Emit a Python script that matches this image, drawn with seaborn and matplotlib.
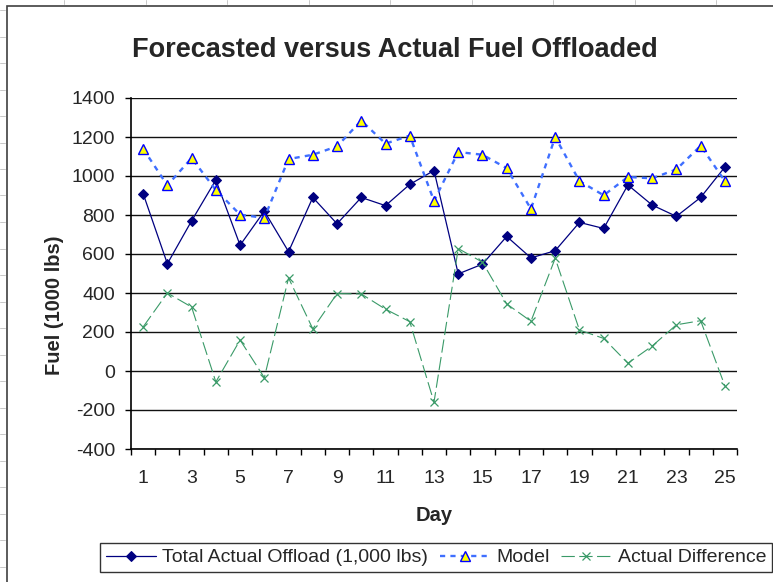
import numpy as np
import pandas as pd
import seaborn as sns
import matplotlib.pyplot as plt
from matplotlib.lines import Line2D
from matplotlib.patches import Rectangle

# --- Data ---
days = list(range(1, 26))
actual = [910, 550, 770, 980, 645, 820, 612, 890, 755, 890, 848, 957, 1028,
          498, 548, 690, 580, 617, 762, 731, 954, 851, 793, 890, 1046]
model = [1140, 952, 1092, 928, 802, 785, 1087, 1109, 1152, 1284, 1166, 1207, 872,
         1123, 1109, 1040, 831, 1200, 974, 901, 995, 988, 1034, 1155, 974]
difference = [226, 400, 328, -56, 159, -34, 477, 216, 397, 395, 317, 253, -160,
              628, 558, 344, 255, 578, 210, 167, 40, 128, 237, 258, -76]
day_labels = [str(d) for d in range(1, 26, 2)]
y_ticks = list(range(-400, 1401, 200))

labels = ["Total Actual Offload (1,000 lbs)", "Model", "Actual Difference"]

sns.set_style("white")
plt.rcParams["font.family"] = ["Liberation Sans", "DejaVu Sans"]
plt.rcParams["axes.unicode_minus"] = False

W, H = 773, 582
fig = plt.figure(figsize=(W / 100, H / 100), dpi=100)
fig.patch.set_facecolor("white")

# chart-area border (runs off the right and bottom edge like the screenshot)
fig.add_artist(Rectangle((7 / W, -0.1), 1.2, 1 - 5.5 / H + 0.1, transform=fig.transFigure,
                         fill=False, edgecolor="#404040", lw=1.2))
# faint spreadsheet grid stubs outside the chart area
for x in np.arange(64, W, 81.5):
    fig.add_artist(Line2D([x / W, x / W], [1 - 0 / H, 1 - 4 / H], color="#c8c8c8", lw=0.7))
for y in np.arange(10, H, 26.5):
    fig.add_artist(Line2D([0, 5 / W], [1 - y / H, 1 - y / H], color="#c8c8c8", lw=0.7))

ax = fig.add_axes([131 / W, 1 - 449 / H, (737 - 131) / W, (449 - 98) / H])
ax.set_facecolor("white")

sns.lineplot(x=days, y=actual, ax=ax, color="#000080", lw=0.9, marker="D",
             markersize=5.5, markeredgecolor="#000080", markerfacecolor="#000080",
             label=labels[0])
sns.lineplot(x=days, y=model, ax=ax, color="#3f6fff", lw=1.7, dashes=(2.2, 2.2),
             marker="^", markersize=7, markerfacecolor="#ffff00",
             markeredgecolor="#0000ff", markeredgewidth=1.0, label=labels[1])
sns.lineplot(x=days, y=difference, ax=ax, color="#3a9a68", lw=0.8, dashes=(12, 4),
             marker="x", markersize=5.5, markeredgecolor="#3a9a68",
             markeredgewidth=0.9, label=labels[2])

if ax.get_legend() is not None:
    ax.get_legend().remove()

ax.set_xlim(0.5, 25.5)
ax.set_ylim(-400, 1400)
ax.set_yticks(y_ticks)
ax.set_yticklabels([str(v) for v in y_ticks])
ax.set_xticks(range(1, 26, 2))
ax.set_xticklabels(day_labels)
ax.set_xticks(np.arange(0.5, 26, 1), minor=True)
ax.yaxis.grid(True, color="#111111", lw=1.0)
ax.xaxis.grid(False)
ax.set_axisbelow(True)

for s in ["top", "right"]:
    ax.spines[s].set_visible(False)
for s in ["left", "bottom"]:
    ax.spines[s].set_color("black")
    ax.spines[s].set_linewidth(1.2)

ax.tick_params(axis="y", which="major", direction="out", length=4.5, width=1,
               color="black", pad=7, labelsize=14, left=True)
ax.tick_params(axis="x", which="major", length=0, pad=15, labelsize=14, bottom=True)
ax.tick_params(axis="x", which="minor", direction="out", length=4.5, width=1,
               color="black", bottom=True)

ax.set_xlabel("Day", fontsize=14.5, fontweight="bold", labelpad=14)
ax.set_ylabel("")
fig.text(54 / W, 1 - 305 / H, "Fuel (1000 lbs)", rotation=90, ha="center", va="center",
         fontsize=14.5, fontweight="bold")

fig.text(395 / W, 1 - 57 / H, "Forecasted versus Actual Fuel Offloaded", ha="center",
         va="baseline", fontsize=19.5, fontweight="bold")

handles = ax.get_lines()[:3]
leg = fig.legend(handles, labels, loc="upper left", bbox_to_anchor=(100 / W, 1 - 543 / H),
                 ncol=3, frameon=True, fancybox=False, edgecolor="black", fontsize=14,
                 handlelength=2.6, handletextpad=0.3, columnspacing=0.6, borderpad=0.3,
                 borderaxespad=0)
leg.get_frame().set_linewidth(1.0)

fig.savefig("out.png", dpi=100)
